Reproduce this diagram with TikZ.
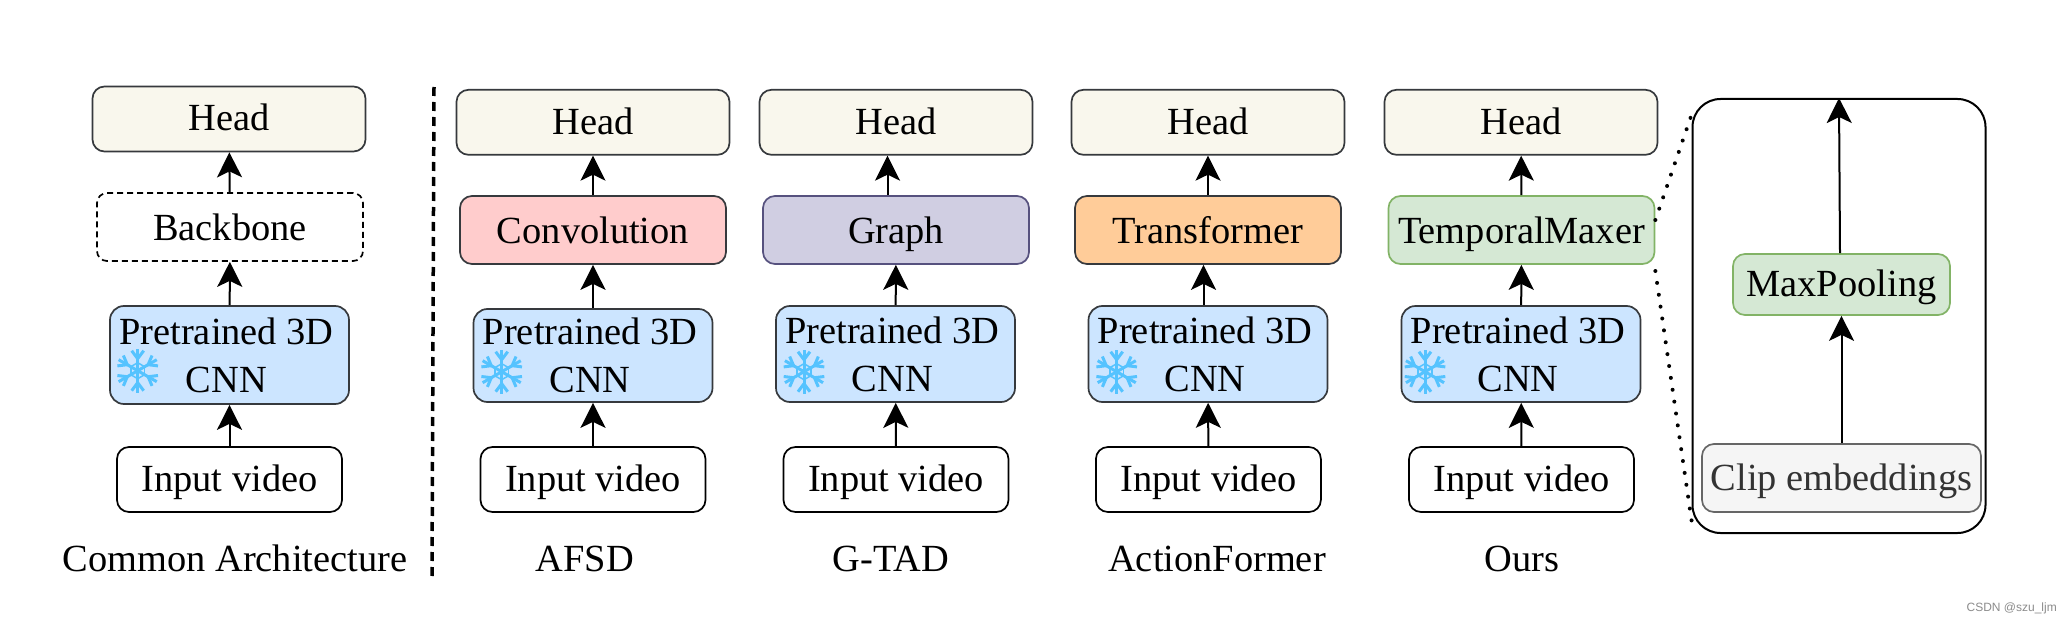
\documentclass[tikz,border=0pt]{standalone}
\usepackage{fontspec}
\setmainfont{Liberation Serif}
\newfontfamily\markfont{Liberation Sans}
\usetikzlibrary{arrows.meta}
\definecolor{headfill}{HTML}{F9F7ED}
\definecolor{boxline}{HTML}{36393D}
\definecolor{convfill}{HTML}{FFCCCC}
\definecolor{graphfill}{HTML}{D0CEE2}
\definecolor{graphline}{HTML}{56517E}
\definecolor{transfill}{HTML}{FFCC99}
\definecolor{maxfill}{HTML}{D5E8D4}
\definecolor{maxline}{HTML}{82B366}
\definecolor{cnnfill}{HTML}{CCE5FF}
\definecolor{clipfill}{HTML}{F5F5F5}
\definecolor{clipline}{HTML}{666666}
\definecolor{cliptext}{HTML}{333333}
\definecolor{flake}{HTML}{55C3FF}
\newcommand{\cnntext}{Pretrained 3D\hspace*{6pt}\\CNN\hspace*{6pt}}

\begin{document}
\begin{tikzpicture}[
  x=1pt, y=-1pt,
  every node/.style={font=\fontsize{38.4}{48}\selectfont},
  block/.style={rounded corners=12pt, line width=1.7pt, inner sep=0pt,
                text height=33pt, text depth=9pt, align=center},
  headbox/.style={block, draw=boxline, fill=headfill, minimum width=273pt, minimum height=65pt},
  midbox/.style={block, draw=boxline, text height=35pt, minimum width=266pt, minimum height=68pt},
  cnnbox/.style={rounded corners=14pt, line width=1.7pt, inner sep=0pt, draw=boxline, fill=cnnfill,
                 align=center, minimum width=239pt, minimum height=96pt},
  inbox/.style={block, draw=black, fill=white, minimum width=225pt, minimum height=65pt},
  caption/.style={anchor=base},
  flow/.style={-{Stealth[length=25pt, width=25pt, inset=6pt]}, line width=2pt, black},
  snowflake/.pic={
    \foreach \a in {30,90,...,330} {
      \draw[rotate=\a, flake, line width=3pt] (0,0) -- (22,0);
      \draw[rotate=\a, flake, line width=3pt] (12,0) -- (20,6) (12,0) -- (20,-6);
      \draw[rotate=\a, flake, line width=1.5pt] (8,0) -- ({8*cos(60)},{8*sin(60)});
    }
  },
]
\path[use as bounding box, fill=white] (0,0) rectangle (2072,623);

% common architecture
\node[headbox] (head1) at (229,119) {Head};
\node[midbox, draw=black, dashed, dash pattern=on 6pt off 4pt, rounded corners=10pt] (back1) at (230,227) {Backbone};
\node[cnnbox, minimum height=98pt, yshift=-1pt] (cnn1) at (229.5,354) {\cnntext};
\node[inbox] (in1) at (229.5,479.5) {Input video};
\node[caption] (cap1) at (235,571) {Common Architecture};
\pic at (137.7,370.7) {snowflake};
\draw[flow] (in1) -- (cnn1);
\draw[flow] (cnn1) -- (back1);
\draw[flow] (back1) -- (head1);

% divider
\coordinate (divtop) at (434,87);
\coordinate (divbot) at (432,578);
\draw[line width=3.5pt, dash pattern=on 9pt off 6pt] (divtop) -- (divbot);

% AFSD
\node[headbox] (head2) at (593,122.3) {Head};
\node[midbox, fill=convfill] (conv) at (593,230) {Convolution};
\node[cnnbox, minimum height=93pt] (cnn2) at (593,355.5) {\cnntext};
\node[inbox] (in2) at (593,479.5) {Input video};
\node[caption] (cap2) at (585,571) {AFSD};
\pic at (501.7,371.7) {snowflake};
\draw[flow] (in2) -- (cnn2);
\draw[flow] (cnn2) -- (conv);
\draw[flow] (conv) -- (head2);

% G-TAD
\node[headbox] (head3) at (896,122.3) {Head};
\node[midbox, draw=graphline, fill=graphfill] (graph) at (896,230) {Graph};
\node[cnnbox] (cnn3) at (895.5,354) {\cnntext};
\node[inbox] (in3) at (896,479.5) {Input video};
\node[caption] (cap3) at (891,571) {G-TAD};
\pic at (804,371.7) {snowflake};
\draw[flow] (in3) -- (cnn3);
\draw[flow] (cnn3) -- (graph);
\draw[flow] ([xshift=-8.5pt]graph.north) -- ([xshift=-8.5pt]head3.south);

% ActionFormer
\node[headbox] (head4) at (1208,122.3) {Head};
\node[midbox, fill=transfill] (trans) at (1208,230) {Transformer};
\node[cnnbox] (cnn4) at (1208,354) {\cnntext};
\node[inbox] (in4) at (1208.4,479.5) {Input video};
\node[caption] (cap4) at (1217,571) {ActionFormer};
\pic at (1116.7,371.7) {snowflake};
\draw[flow] (in4) -- (cnn4);
\draw[flow] ([xshift=-4.5pt]cnn4.north) -- ([xshift=-4.5pt]trans.south);
\draw[flow] (trans) -- (head4);

% ours
\node[headbox] (head5) at (1521,122.3) {Head};
\node[midbox, draw=maxline, fill=maxfill] (maxer) at (1521.5,230) {TemporalMaxer};
\node[cnnbox] (cnn5) at (1521,354) {\cnntext};
\node[inbox] (in5) at (1521.5,479.5) {Input video};
\node[caption] (cap5) at (1522,571) {Ours};
\pic at (1425,371.7) {snowflake};
\draw[flow] (in5) -- (cnn5);
\draw[flow] (cnn5) -- (maxer);
\draw[flow] (maxer) -- (head5);

% zoomed panel
\node[draw=black, line width=2pt, rounded corners=28pt, minimum width=293pt, minimum height=434pt] (panel) at (1839,316) {};
\node[block, draw=maxline, fill=maxfill, minimum width=217pt, minimum height=61pt] (pool) at (1841.5,284.5) {MaxPooling};
\node[block, draw=clipline, fill=clipfill, text=cliptext, minimum width=279pt, minimum height=68pt] (clip) at (1841.5,478) {Clip embeddings};
\draw[flow] (clip) -- (pool);
\draw[flow] ([xshift=-1.5pt]pool.north) -- (panel.north);

\coordinate (paneltop) at (1692.5,112);
\coordinate (panelbot) at (1692.5,527);
\draw[line width=4pt, line cap=round, dash pattern=on 0pt off 12pt] ([yshift=10pt]maxer.east) -- (paneltop);
\draw[line width=4pt, line cap=round, dash pattern=on 0pt off 12pt] ([yshift=-41pt]maxer.east) -- (panelbot);

\node[anchor=base east, inner sep=0pt, text=black!45, font=\markfont\fontsize{12}{14}\selectfont] (mark) at (2057,611) {CSDN @szu\_ljm};
\end{tikzpicture}
\end{document}
